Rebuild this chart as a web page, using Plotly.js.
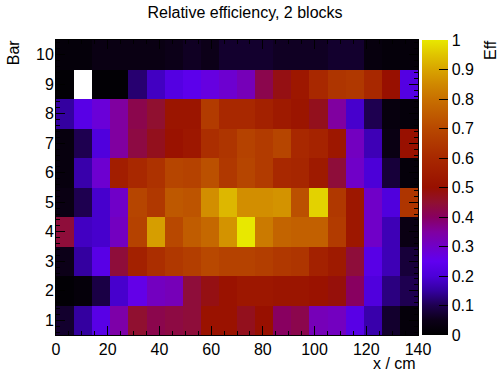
<!DOCTYPE html>
<html>
<head>
<meta charset="utf-8">
<script src="https://cdn.plot.ly/plotly-3.0.1.min.js"></script>
<style>html,body{margin:0;padding:0;background:#fff;}#chart{width:498px;height:373px;}</style>
</head>
<body>
<div id="chart"></div>
<script>
// x bin centres (cm), bin width 7
const xCenters = [3.5, 10.5, 17.5, 24.5, 31.5, 38.5, 45.5, 52.5, 59.5, 66.5,
                  73.5, 80.5, 87.5, 94.5, 101.5, 108.5, 115.5, 122.5, 129.5, 136.5];
const bars = [1, 2, 3, 4, 5, 6, 7, 8, 9, 10];

const bar1  = [0.07, 0.15, 0.23, 0.34, 0.45, 0.42, 0.43, 0.44, 0.51, 0.51, 0.47, 0.50, 0.40, 0.42, 0.32, 0.31, 0.23, 0.16, 0.07, 0.02];
const bar2  = [0.01, 0.02, 0.09, 0.19, 0.26, 0.31, 0.32, 0.44, 0.48, 0.51, 0.53, 0.53, 0.52, 0.52, 0.51, 0.49, 0.40, 0.21, 0.13, 0.10];
const bar3  = [0.05, 0.15, 0.23, 0.44, 0.57, 0.62, 0.65, 0.67, 0.70, 0.68, 0.68, 0.67, 0.65, 0.64, 0.57, 0.54, 0.44, 0.23, 0.17, 0.08];
const bar4  = [0.44, 0.18, 0.19, 0.31, 0.68, 0.89, 0.70, 0.75, 0.78, 0.87, 1.00, 0.82, 0.77, 0.76, 0.76, 0.66, 0.53, 0.30, 0.17, 0.04];
const bar5  = [0.04, 0.10, 0.19, 0.30, 0.69, 0.65, 0.74, 0.73, 0.86, 0.93, 0.86, 0.86, 0.87, 0.72, 0.97, 0.65, 0.53, 0.30, 0.21, 0.64];
const bar6  = [0.03, 0.16, 0.29, 0.56, 0.60, 0.63, 0.69, 0.68, 0.72, 0.65, 0.69, 0.66, 0.60, 0.59, 0.54, 0.44, 0.30, 0.20, 0.08, 0.02];
const bar7  = [0.03, 0.10, 0.21, 0.35, 0.43, 0.47, 0.51, 0.53, 0.62, 0.64, 0.68, 0.66, 0.69, 0.60, 0.58, 0.53, 0.31, 0.17, 0.04, 0.50];
const bar8  = [0.15, 0.23, 0.28, 0.35, 0.42, 0.45, 0.52, 0.52, 0.66, 0.60, 0.60, 0.57, 0.54, 0.52, 0.47, 0.35, 0.19, 0.10, 0.03, 0.02];
const bar9  = [0.01, null, 0.01, 0.01, 0.12, 0.18, 0.22, 0.24, 0.27, 0.29, 0.32, 0.42, 0.48, 0.53, 0.60, 0.64, 0.65, 0.60, 0.50, 0.22];
const bar10 = [0.02, 0.02, 0.04, 0.04, 0.04, 0.04, 0.05, 0.06, 0.05, 0.07, 0.07, 0.07, 0.06, 0.06, 0.06, 0.07, 0.07, 0.03, 0.02, 0.02];

const zRows = [bar1, bar2, bar3, bar4, bar5, bar6, bar7, bar8, bar9, bar10];
const cbTicks = [0, 0.1, 0.2, 0.3, 0.4, 0.5, 0.6, 0.7, 0.8, 0.9, 1];
const cbLabels = ['0', '0.1', '0.2', '0.3', '0.4', '0.5', '0.6', '0.7', '0.8', '0.9', '1'];

const palette = [
  [0.00, '#000000'], [0.05, '#0c0018'], [0.10, '#1e0050'], [0.15, '#3400a0'],
  [0.20, '#4c00d8'], [0.25, '#6000f0'], [0.30, '#7000c8'], [0.35, '#8000a0'],
  [0.40, '#880060'], [0.45, '#901030'], [0.50, '#981000'], [0.55, '#a01c00'],
  [0.60, '#a82800'], [0.65, '#b03800'], [0.70, '#b84800'], [0.75, '#c05c00'],
  [0.80, '#c87000'], [0.85, '#d08800'], [0.90, '#d8a400'], [0.95, '#e0c400'],
  [1.00, '#e8e800']
];

const FONT = 'Liberation Sans, Arial, Helvetica, sans-serif';
const TF = {family: FONT, size: 16, color: '#000'};

const trace = {
  type: 'heatmap',
  x: xCenters,
  y: bars,
  z: zRows,
  zmin: 0,
  zmax: 1,
  colorscale: palette,
  xgap: 0, ygap: 0,
  hoverongaps: false,
  colorbar: {
    x: 1.0124, xanchor: 'left', xpad: 0,
    y: 0.5, yanchor: 'middle', ypad: 0,
    len: 1, lenmode: 'fraction',
    thickness: 25.5,
    outlinewidth: 0,
    ticks: 'inside', ticklen: 9, tickcolor: '#000', tickwidth: 1,
    tickvals: cbTicks, ticktext: cbLabels,
    tickfont: TF
  }
};

const layout = {
  width: 498, height: 373,
  margin: {l: 56, r: 80, t: 40, b: 38, pad: 0},
  paper_bgcolor: '#fff', plot_bgcolor: '#fff',
  font: {family: FONT, color: '#000'},
  title: {
    text: 'Relative efficiency, 2 blocks',
    font: {family: FONT, size: 16, color: '#000'},
    x: 0.492, xref: 'container', xanchor: 'center',
    y: 0.968, yref: 'container', yanchor: 'middle'
  },
  xaxis: {
    range: [0, 140], tick0: 0, dtick: 20,
    ticks: 'inside', ticklen: 9, tickcolor: '#000', tickwidth: 1,
    minor: {dtick: 5, ticks: 'inside', ticklen: 4, tickcolor: '#000'},
    showline: true, linecolor: '#000', linewidth: 1, mirror: 'ticks',
    showgrid: false, zeroline: false,
    tickfont: TF
  },
  yaxis: {
    range: [0.5, 10.5], tick0: 1, dtick: 1,
    ticks: 'inside', ticklen: 9, tickcolor: '#000', tickwidth: 1,
    minor: {dtick: 0.2, ticks: 'inside', ticklen: 4, tickcolor: '#000'},
    showline: true, linecolor: '#000', linewidth: 1, mirror: 'ticks',
    showgrid: false, zeroline: false,
    ticklabelstandoff: -2,
    tickfont: TF
  },
  annotations: [
    {text: 'Bar', xref: 'paper', yref: 'paper', x: -0.117, y: 1.008,
     xanchor: 'center', yanchor: 'top', textangle: -90, showarrow: false,
     font: TF},
    {text: 'x / cm', xref: 'paper', yref: 'paper', x: 1.0, y: -0.095,
     xanchor: 'right', yanchor: 'middle', showarrow: false,
     font: TF},
    {text: 'Eff', xref: 'paper', yref: 'paper', x: 1.2, y: 1.008,
     xanchor: 'center', yanchor: 'top', textangle: -90, showarrow: false,
     font: TF}
  ]
};

Plotly.newPlot('chart', [trace], layout, {displayModeBar: false, staticPlot: true});
</script>
</body>
</html>
